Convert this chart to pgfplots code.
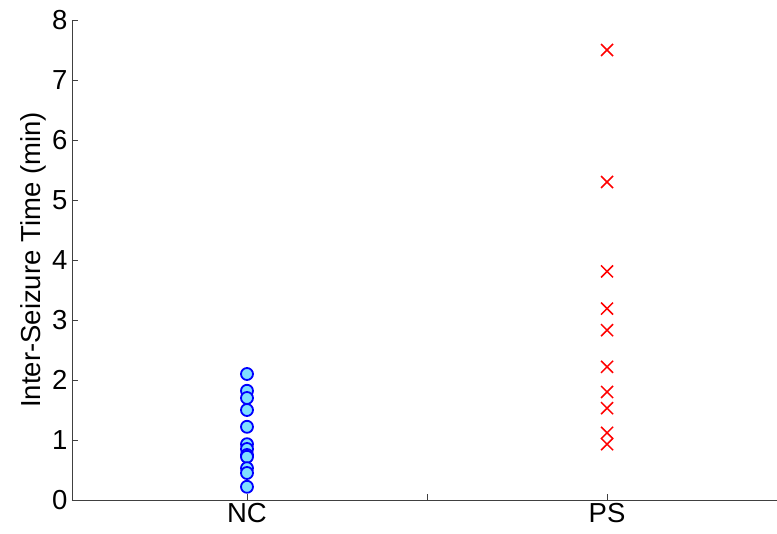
\documentclass[border=0pt]{standalone}
\usepackage{pgfplots}
\pgfplotsset{compat=1.18}
\usepackage{fontspec}
\setmainfont{Liberation Sans}
\usetikzlibrary{calc}
\definecolor{circfill}{RGB}{128,224,255}
\begin{document}
\begin{tikzpicture}[x=1pt,y=1pt]
\begin{axis}[
  scale only axis,
  width=705pt, height=480pt,
  xmin=0.514, xmax=2.472,
  ymin=0, ymax=8,
  axis x line*=bottom, axis y line*=left,
  axis line style={black!75, line width=0.9pt},
  xtick={1,1.5,2}, xticklabels={NC,,PS},
  ytick={0,1,...,8},
  tick style={black!75, line width=0.8pt},
  major tick length=6pt,
  tick align=inside,
  ticklabel style={font=\fontsize{27.5}{30}\selectfont},
  /pgf/number format/assume math mode=true,
  ylabel={Inter-Seizure Time (min)},
  ylabel style={font=\fontsize{27.5}{30}\selectfont, yshift=-1pt},
  xticklabel style={yshift=0pt},
  yticklabel style={xshift=-1pt},
  clip=false,
]
\coordinate (sw) at (rel axis cs:0,0);
\coordinate (ne) at (rel axis cs:1,1);
\addplot[only marks, mark=*, mark size=6pt, mark options={draw=blue, fill=circfill, line width=1.8pt}]
coordinates {(1,2.1) (1,1.82) (1,1.7) (1,1.5) (1,1.22) (1,0.93) (1,0.85) (1,0.75) (1,0.72) (1,0.53) (1,0.45) (1,0.22)};
\addplot[only marks, mark=x, mark size=8.5pt, mark options={draw=red, line width=1.5pt}]
coordinates {(2,7.5) (2,5.3) (2,3.81) (2,3.19) (2,2.83) (2,2.22) (2,1.8) (2,1.53) (2,1.12) (2,0.93)};
\end{axis}
\pgfresetboundingbox
\path ($(sw)+(-72pt,-34pt)$) rectangle ($(ne)+(0pt,20pt)$);
\end{tikzpicture}
\end{document}
